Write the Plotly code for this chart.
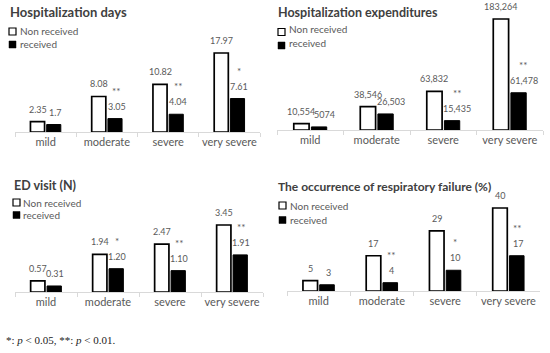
import plotly.graph_objects as go

categories = ["mild", "moderate", "severe", "very severe"]
series_names = ["Non received", "received"]

days_non = [2.35, 8.08, 10.82, 17.97]
days_rec = [1.7, 3.05, 4.04, 7.61]
days_sig = ["", "**", "**", "*"]

exp_non = [10554, 38546, 63832, 183264]
exp_rec = [5074, 26503, 15435, 61478]
exp_sig = ["", "", "**", "**"]

ed_non = [0.57, 1.94, 2.47, 3.45]
ed_rec = [0.31, 1.20, 1.10, 1.91]
ed_sig = ["", "*", "**", "**"]

rf_non = [5, 17, 29, 40]
rf_rec = [3, 4, 10, 17]
rf_sig = ["", "**", "*", "**"]

titles = ["Hospitalization days", "Hospitalization expenditures",
          "ED visit (N)", "The occurrence of respiratory failure (%)"]
footnote = "*: <i>p</i> &lt; 0.05, **: <i>p</i> &lt; 0.01."

W, H = 550, 353
FONT = "Lato"
LABEL_C = "#595959"
TITLE_C = "#404040"
BARGAP = 0.47


def px(x):
    return x / W


def py(y):
    return 1 - y / H


fmt_days = lambda v: f"{v:g}"
fmt_exp = lambda v: f"{v:,}" if v >= 10000 else str(v)
fmt_ed = lambda v: f"{v:.2f}"
fmt_rf = lambda v: str(v)

panels = [
    dict(non=days_non, rec=days_rec, sig=days_sig, fmt=fmt_days, title=titles[0],
         xdom=(15, 260), base=132, top=10, ymax=27.75, rshift=2, tsize=13,
         tpos=(8, 12), leg=[(12.5, 31.5, 18, 31), (12.5, 44.5, 18, 44)]),
    dict(non=exp_non, rec=exp_rec, sig=exp_sig, fmt=fmt_exp, title=titles[1],
         xdom=(277, 543), base=130, top=10, ymax=198122, rshift=5, tsize=12.5,
         tpos=(276, 12), leg=[(281.5, 32, 287, 28.5), (281.5, 45.5, 287, 43)]),
    dict(non=ed_non, rec=ed_rec, sig=ed_sig, fmt=fmt_ed, title=titles[2],
         xdom=(15, 263), base=292, top=180, ymax=5.767, rshift=1, tsize=12.5,
         tpos=(12, 185), leg=[(16.5, 202.5, 21, 203), (16.5, 215, 21, 215)]),
    dict(non=rf_non, rec=rf_rec, sig=rf_sig, fmt=fmt_rf, title=titles[3],
         xdom=(287, 540), base=291, top=180, ymax=53.5, rshift=1, tsize=12,
         tpos=(276, 186), leg=[(282.5, 205.5, 288, 206), (282.5, 220, 288, 220)]),
]

fig = go.Figure()
annotations = []
shapes = []

for i, p in enumerate(panels):
    n = "" if i == 0 else str(i + 1)
    xa, ya = "x" + n, "y" + n
    fig.add_trace(go.Bar(
        x=categories, y=p["non"], name=series_names[0], xaxis=xa, yaxis=ya,
        marker=dict(color="white", line=dict(color="black", width=1.7)),
        showlegend=False))
    fig.add_trace(go.Bar(
        x=categories, y=p["rec"], name=series_names[1], xaxis=xa, yaxis=ya,
        marker=dict(color="black", line=dict(color="black", width=1)),
        showlegend=False))

    fig.layout["xaxis" + n] = dict(
        domain=[px(p["xdom"][0]), px(p["xdom"][1])], anchor=ya,
        type="category", range=[-0.5, 3.5], showline=True, linecolor="#d9d9d9",
        linewidth=1, ticks="outside", tickson="boundaries", ticklen=4,
        tickcolor="#d9d9d9", showgrid=False, zeroline=False, tickangle=0,
        automargin=False,
        tickfont=dict(family=FONT, size=11, color=LABEL_C), fixedrange=True)
    fig.layout["yaxis" + n] = dict(
        domain=[py(p["base"]), py(p["top"])], anchor=xa,
        range=[0, p["ymax"]], visible=False, showgrid=False, zeroline=False,
        automargin=False, fixedrange=True)

    # data labels placed in data coordinates, shifted over each bar of the group
    cat_px = (p["xdom"][1] - p["xdom"][0]) / len(categories)
    off = (1 - BARGAP) / 4 * cat_px
    for c, vn, vr, s in zip(categories, p["non"], p["rec"], p["sig"]):
        annotations.append(dict(
            text=p["fmt"](vn), xref=xa, yref=ya, x=c, y=vn, xshift=-off,
            yshift=5, yanchor="bottom", xanchor="center", showarrow=False,
            font=dict(family=FONT, size=9, color=LABEL_C)))
        annotations.append(dict(
            text=p["fmt"](vr), xref=xa, yref=ya, x=c, y=vr,
            xshift=off + p["rshift"], yshift=5, yanchor="bottom",
            xanchor="center", showarrow=False,
            font=dict(family=FONT, size=9, color=LABEL_C)))
        if s:
            annotations.append(dict(
                text=s, xref=xa, yref=ya, x=c, y=vr,
                xshift=off + p["rshift"], yshift=20, yanchor="bottom",
                xanchor="center", showarrow=False,
                font=dict(family=FONT, size=10, color=LABEL_C)))

    annotations.append(dict(
        text="<b>" + p["title"] + "</b>", xref="paper", yref="paper",
        x=px(p["tpos"][0]), y=py(p["tpos"][1]), xanchor="left", yanchor="middle",
        showarrow=False, font=dict(family=FONT, size=p["tsize"], color=TITLE_C)))
    for j, (sx, sy, tx, ty) in enumerate(p["leg"]):
        s = 3.5
        shapes.append(dict(
            type="rect", xref="paper", yref="paper",
            x0=px(sx - s), x1=px(sx + s), y0=py(sy + s), y1=py(sy - s),
            fillcolor="white" if j == 0 else "black",
            line=dict(color="black", width=1.2 if j == 0 else 0.5)))
        annotations.append(dict(
            text=series_names[j], xref="paper", yref="paper",
            x=px(tx), y=py(ty), xanchor="left", yanchor="middle",
            showarrow=False, font=dict(family=FONT, size=10, color=LABEL_C)))

annotations.append(dict(
    text=footnote, xref="paper", yref="paper", x=px(4), y=py(340),
    xanchor="left", yanchor="middle", showarrow=False,
    font=dict(family="Liberation Serif", size=11, color="#222222")))

fig.update_layout(
    width=W, height=H, margin=dict(l=0, r=0, t=0, b=0),
    paper_bgcolor="white", plot_bgcolor="white",
    barmode="group", bargap=BARGAP, bargroupgap=0.13,
    annotations=annotations, shapes=shapes, showlegend=False,
    font=dict(family=FONT))

fig.write_html("out.html", config={"displayModeBar": False},
               post_script="document.body.style.margin='0';"
                           "document.body.style.overflow='hidden';")
